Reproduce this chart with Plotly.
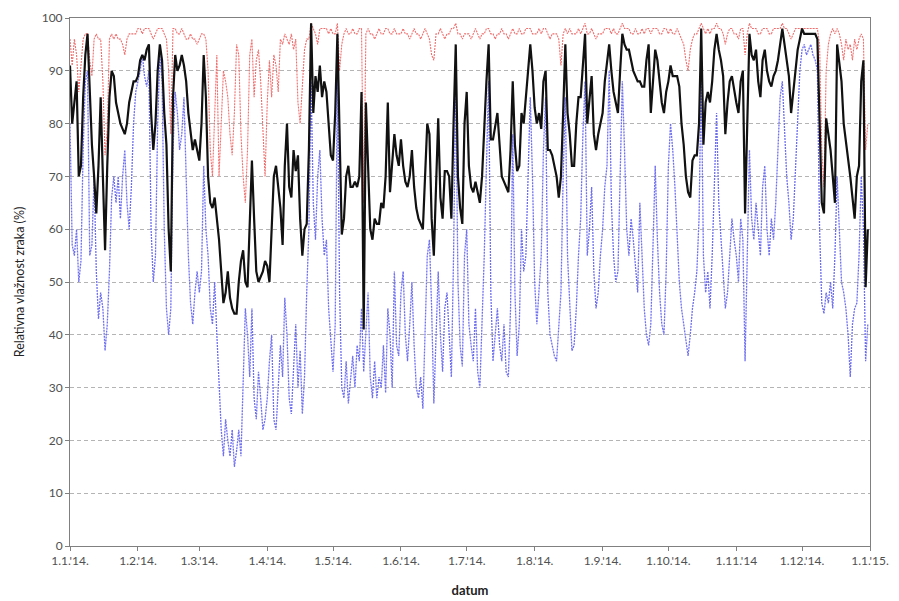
import pandas as pd
import plotly.graph_objects as go

# Daily relative air humidity (%) for 2014: daily mean, daily maximum, daily minimum
mean_jan = [91,80,84,88,70,72,85,93,97,85,76,70,63,72,85,70,56,72,85,90,89,84,82,80,79,78,80,84,86,88,88]
mean_feb = [89,92,93,92,94,95,82,75,80,90,95,92,82,76,60,52,85,93,90,91,93,91,88,82,78,75,77,75]
mean_mar = [73,80,93,85,70,65,64,66,62,58,52,46,48,52,47,45,44,44,50,54,56,50,49,60,73,62,52,50,51,52,54]
mean_apr = [53,50,60,70,72,68,64,57,72,80,68,66,75,71,74,62,55,60,61,75,99,82,89,86,91,85,88,86,80,74]
mean_may = [73,82,97,80,59,62,70,72,68,68,69,68,70,86,41,84,72,60,58,62,61,61,65,64,70,84,67,72,78,74,72]
mean_jun = [77,72,69,68,70,75,68,64,62,61,60,70,80,78,62,55,70,81,66,62,71,71,70,62,80,95,70,64,61,80]
mean_jul = [86,72,68,67,69,67,65,70,80,88,95,77,77,80,82,76,70,69,68,67,75,88,76,71,72,82,80,86,90,95,90]
mean_aug = [83,80,82,79,88,90,75,75,74,72,70,66,70,82,95,82,78,72,72,80,85,85,92,97,80,84,89,78,75,78,80]
mean_sep = [82,88,92,95,90,86,84,82,90,97,95,94,94,92,90,89,88,88,87,87,92,95,82,88,94,92,88,84,82,86]
mean_oct = [88,91,89,89,89,87,80,76,70,67,66,73,74,74,80,98,76,84,86,84,88,94,97,94,92,89,78,84,88,89,86]
mean_nov = [84,82,88,90,63,80,97,93,92,94,88,85,92,94,90,88,87,89,90,92,95,98,95,92,89,82,86,90,94,96]
mean_dec = [98,97,97,97,97,97,97,96,82,65,63,81,78,75,70,65,95,92,88,80,77,74,70,66,62,70,72,88,92,49,60]

max_jan = [96,91,96,93,86,92,96,97,97,92,89,96,97,96,96,88,74,79,96,97,96,97,96,96,95,93,96,97,97,97,97]
max_feb = [98,98,97,98,98,98,97,96,97,98,98,98,97,96,90,78,98,98,97,97,98,97,96,96,97,96,96,95]
max_mar = [96,97,97,96,90,75,70,80,93,70,82,90,88,85,78,74,82,95,93,78,70,65,75,93,96,85,92,94,88,80,70]
max_apr = [84,92,85,93,91,86,96,95,97,96,95,97,94,96,84,80,88,94,96,96,99,98,97,95,98,98,98,98,97,98]
max_may = [97,97,99,90,95,97,98,97,97,98,97,97,98,98,65,97,98,97,97,96,97,98,97,97,98,98,97,97,98,97,97]
max_jun = [97,98,97,97,96,97,98,97,97,96,97,98,97,96,93,92,97,97,98,97,96,97,97,98,98,99,97,97,96,97]
max_jul = [97,97,96,97,98,97,96,97,97,98,98,97,97,96,97,97,98,97,97,96,97,98,97,97,98,97,97,98,98,98,97]
max_aug = [97,97,98,97,98,98,97,96,97,97,97,96,91,97,98,97,98,97,97,97,98,97,98,99,97,97,98,97,96,97,97]
max_sep = [97,98,98,98,97,98,97,97,98,99,98,98,98,97,97,98,97,97,98,97,98,98,97,98,98,98,97,97,98,98]
max_oct = [97,98,97,97,98,97,96,95,92,90,94,96,97,97,98,99,98,97,98,97,98,98,99,98,98,97,95,97,98,98,97]
max_nov = [97,96,98,98,93,97,99,98,98,98,97,97,98,98,98,97,97,98,98,98,98,99,98,98,97,96,97,98,98,98]
max_dec = [98,98,98,98,98,98,98,98,95,75,68,90,95,97,98,97,98,97,95,92,96,94,95,92,96,94,96,97,96,75,80]

min_jan = [80,57,55,60,50,54,75,88,90,55,57,70,52,43,48,45,37,42,52,66,70,65,70,62,70,75,65,60,68,80,86]
min_feb = [88,90,93,89,87,90,60,50,55,80,93,88,60,45,40,45,75,86,82,75,78,85,70,55,46,42,48,52]
min_mar = [48,52,72,60,55,45,42,50,40,30,22,17,24,20,17,22,15,18,22,17,30,45,40,32,45,28,24,33,28,22,24]
min_apr = [28,35,40,24,22,30,38,32,47,40,28,25,35,42,30,37,25,32,48,60,88,65,58,70,75,62,55,58,45,38]
min_may = [33,42,90,48,30,28,35,27,32,36,30,38,35,45,33,40,48,32,28,35,28,32,30,38,29,45,40,30,52,38,36]
min_jun = [48,52,40,35,42,50,38,30,28,32,26,40,55,58,45,27,38,52,40,33,45,48,40,32,55,88,50,38,34,55]
min_jul = [60,42,38,35,45,33,30,42,55,72,88,48,35,40,45,38,35,42,33,32,45,78,48,36,42,60,52,55,68,85,70]
min_aug = [50,42,48,55,75,85,48,40,38,36,35,42,48,70,85,55,45,37,38,45,55,62,78,88,55,60,68,52,45,48,55]
min_sep = [60,68,72,90,65,55,50,52,70,88,75,60,55,62,58,52,48,65,55,45,40,38,42,60,72,58,48,42,40,52]
min_oct = [72,80,75,68,58,50,45,42,38,36,40,45,48,52,62,90,55,48,52,45,55,70,82,65,58,52,45,48,55,62,58]
min_nov = [55,50,62,58,35,55,75,62,58,65,60,55,68,72,60,55,62,58,65,75,85,88,80,70,65,58,62,72,82,90]
min_dec = [94,95,93,94,95,93,92,90,60,46,44,48,46,50,45,55,70,60,50,48,45,40,32,42,45,46,55,70,60,35,42]

tick_dates = ["2014-01-01", "2014-02-01", "2014-03-01", "2014-04-01", "2014-05-01",
              "2014-06-01", "2014-07-01", "2014-08-01", "2014-09-01", "2014-10-01",
              "2014-11-01", "2014-12-01", "2015-01-01"]
tick_labels = ["1.1.'14.", "1.2.'14.", "1.3.'14.", "1.4.'14.", "1.5.'14.", "1.6.'14.",
               "1.7.'14.", "1.8.'14.", "1.9.'14.", "1.10.'14.", "1.11.'14", "1.12.'14.",
               "1.1.'15."]

mean_rh = (mean_jan + mean_feb + mean_mar + mean_apr + mean_may + mean_jun +
           mean_jul + mean_aug + mean_sep + mean_oct + mean_nov + mean_dec)
max_rh = (max_jan + max_feb + max_mar + max_apr + max_may + max_jun +
          max_jul + max_aug + max_sep + max_oct + max_nov + max_dec)
min_rh = (min_jan + min_feb + min_mar + min_apr + min_may + min_jun +
          min_jul + min_aug + min_sep + min_oct + min_nov + min_dec)

days = pd.date_range("2014-01-01", periods=len(mean_rh), freq="D")

fig = go.Figure()
fig.add_trace(go.Scatter(x=days, y=min_rh, mode="lines", name="min",
                         line=dict(color="rgb(110,110,240)", width=1.3, dash="2px,1px")))
fig.add_trace(go.Scatter(x=days, y=max_rh, mode="lines", name="max",
                         line=dict(color="rgb(240,110,110)", width=1.1, dash="2px,1px")))
fig.add_trace(go.Scatter(x=days, y=mean_rh, mode="lines", name="srednja",
                         line=dict(color="#111111", width=2.2)))

tick_font = dict(family="Lato, Liberation Sans, sans-serif", size=12, color="#505050")

fig.update_layout(
    width=899, height=601,
    margin=dict(l=70, r=29, t=18, b=55),
    paper_bgcolor="white", plot_bgcolor="white",
    showlegend=False,
    font=dict(family="Lato, Liberation Sans, sans-serif", color="#222"),
)
fig.update_xaxes(
    range=["2014-01-01", "2015-01-01"], automargin=False,
    tickmode="array", tickvals=tick_dates, ticktext=tick_labels,
    tickfont=tick_font, ticks="outside", ticklen=4, tickcolor="#808080",
    showgrid=False, zeroline=False,
    showline=True, linecolor="#808080", linewidth=1, mirror=True,
    title=dict(text="<b>datum</b>", font=dict(size=13, color="#222"), standoff=18),
)
fig.update_yaxes(
    range=[0, 100], dtick=10, tick0=0, automargin=False,
    tickfont=tick_font, ticks="outside", ticklen=4, tickcolor="#808080",
    showgrid=True, gridcolor="#b4b4b4", griddash="4px,3px", gridwidth=1,
    zeroline=False,
    showline=True, linecolor="#808080", linewidth=1, mirror=True,
    title=dict(text="Relativna vlažnost zraka (%)", font=dict(size=12.5, color="#222"), standoff=14),
)

fig.write_html("out.html")
